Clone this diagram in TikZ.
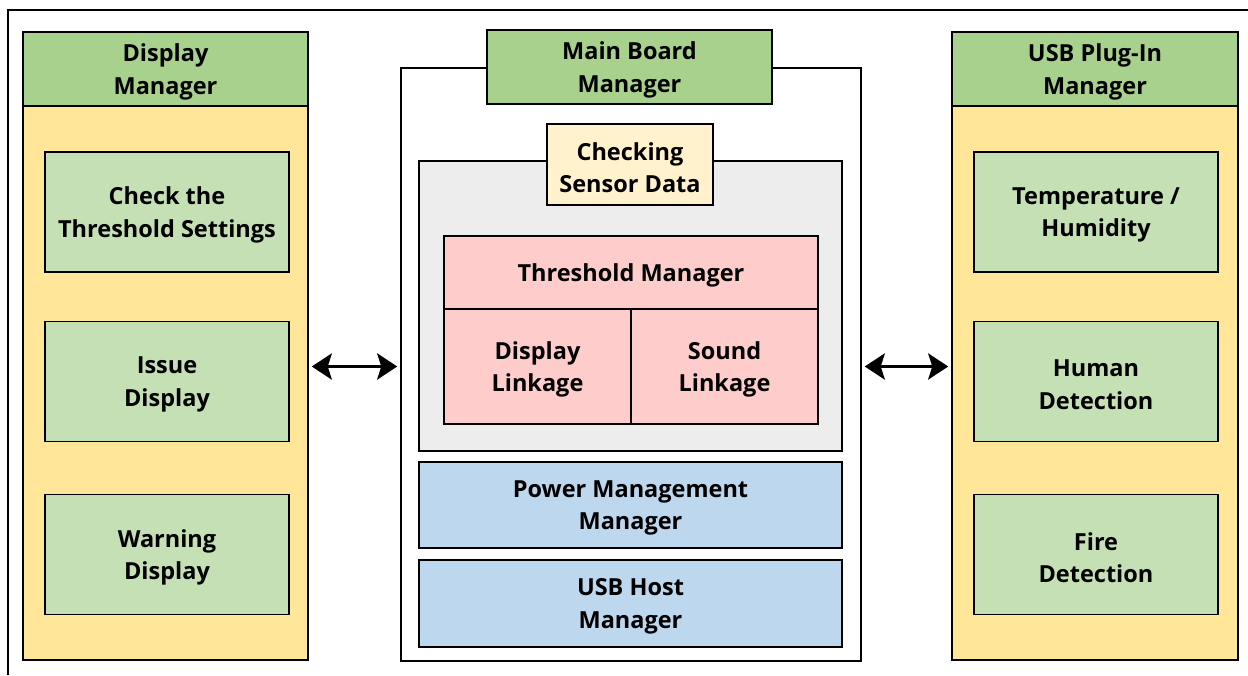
\documentclass[tikz,border=0pt]{standalone}
\usepackage{fontspec}
\setmainfont{Open Sans}[BoldFont={Open Sans Bold}]
\usetikzlibrary{arrows.meta,calc}
\definecolor{hdrgreen}{HTML}{A9D18E}
\definecolor{ingreen}{HTML}{C5E0B4}
\definecolor{bodyyellow}{HTML}{FFE699}
\definecolor{checkyellow}{HTML}{FFF2CC}
\definecolor{pinkfill}{HTML}{FFCCCC}
\definecolor{grayfill}{HTML}{EDEDED}
\definecolor{bluefill}{HTML}{BDD7EE}
\begin{document}
\begin{tikzpicture}[x=1pt,y=-1pt,
  box/.style={draw=black,line width=1.5pt,inner sep=0pt},
  lbl/.style={inner sep=0pt,align=center,yshift=-3pt,
    font=\fontsize{23.5}{32.5}\selectfont\bfseries},
  t/.style={label={[lbl]center:{#1}}},
  hdr/.style={box,fill=hdrgreen},
  inbox/.style={box,fill=ingreen,minimum width=244pt,minimum height=120pt},
  pinkbox/.style={box,fill=pinkfill},
  bluebox/.style={box,fill=bluefill,minimum width=423pt},
  biarrow/.style={line width=3.5pt,{Stealth[length=20pt,width=26pt,inset=4pt]}-{Stealth[length=20pt,width=26pt,inset=4pt]}}
]
\useasboundingbox (0,0) rectangle (1248,675);
\fill[white] (0,0) rectangle (1248,675);
% outer frame
\draw[line width=2pt] (8,675) -- (8,10) -- (1248,10);

% Display Manager
\node[box,fill=bodyyellow,minimum width=285pt,minimum height=554pt] (dmbody) at (165.5,383) {};
\node[hdr,minimum width=285pt,minimum height=74pt,t={Display\\Manager}] (dmhdr) at (165.5,69) {};
\node[inbox,t={Check the\\Threshold Settings}] (thr) at (167,212) {};
\node[inbox,t={Issue\\Display}] (issue) at (167,381.5) {};
\node[inbox,t={Warning\\Display}] (warn) at (167,554.5) {};

% Main Board Manager
\node[box,fill=white,minimum width=460pt,minimum height=593pt] (mb) at (631,364.5) {};
\node[hdr,minimum width=285pt,minimum height=74pt,t={Main Board\\Manager}] (mbhdr) at (629.5,67) {};
\node[box,fill=grayfill,minimum width=423pt,minimum height=290pt] (gray) at (630.5,306) {};
\node[box,fill=checkyellow,minimum width=166pt,minimum height=81pt,t={Checking\\Sensor Data}] (check) at (630,164.5) {};
\node[pinkbox,minimum width=374pt,minimum height=73pt,t={Threshold Manager}] (tm) at (631,272.5) {};
\node[pinkbox,minimum width=187pt,minimum height=115pt,t={Display\\Linkage}] (dl) at (537.5,366.5) {};
\node[pinkbox,minimum width=187pt,minimum height=115pt,t={Sound\\Linkage}] (sl) at (724.5,366.5) {};
\node[bluebox,minimum height=86pt,t={Power Management\\Manager}] (pm) at (630.5,505) {};
\node[bluebox,minimum height=87pt,t={USB Host\\Manager}] (uh) at (630.5,603.5) {};

% USB Plug-In Manager
\node[box,fill=bodyyellow,minimum width=286pt,minimum height=554pt] (ubody) at (1095,383) {};
\node[hdr,minimum width=286pt,minimum height=74pt,t={USB Plug-In\\Manager}] (uhdr) at (1095,69) {};
\node[inbox,t={Temperature /\\Humidity}] (temp) at (1096,212) {};
\node[inbox,t={Human\\Detection}] (human) at (1096,381.5) {};
\node[inbox,t={Fire\\Detection}] (fire) at (1096,554.5) {};

% arrows
\draw[biarrow,shorten <=3pt,shorten >=3pt] (dmbody.east |- dl.center) -- (mb.west |- dl.center);
\draw[biarrow,shorten <=3pt,shorten >=3pt] (mb.east |- dl.center) -- (ubody.west |- dl.center);
\end{tikzpicture}
\end{document}
